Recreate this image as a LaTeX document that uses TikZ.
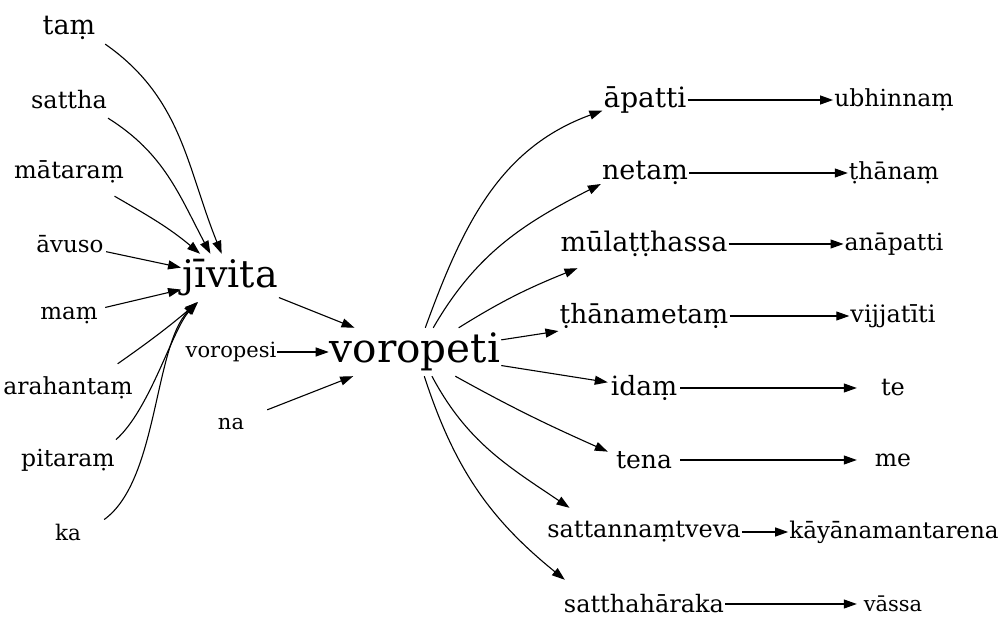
\documentclass[tikz,border=0pt]{standalone}
\usepackage{fontspec}
\IfFontExistsTF{DejaVuSerif.ttf}{\setmainfont{DejaVuSerif.ttf}}{\setmainfont{DejaVu Serif}}
\usetikzlibrary{arrows.meta}
\tikzset{>={Triangle[width=9pt,length=13pt]}}
\newcommand{\wsize}[1]{\fontsize{#1}{#1}\selectfont}

\begin{document}
\begin{tikzpicture}[x=1pt,y=1pt]
  \tikzstyle{wnode} = [inner xsep=1pt, inner ysep=2pt, minimum width=72pt, minimum height=48pt, align=center]
  \tikzstyle{edge} = [->, line width=1.1pt]
  \useasboundingbox (0,0) rectangle (1005,635);

  % left words
  \node[wnode, font=\wsize{27}] (taM) at (69,607) {taṃ};
  \node[wnode, font=\wsize{24}] (sattha) at (69,535) {sattha};
  \node[wnode, font=\wsize{24}] (mataraM) at (69,463) {mātaraṃ};
  \node[wnode, font=\wsize{23}] (avuso) at (70,391) {āvuso};
  \node[wnode, font=\wsize{23}] (maM) at (69,319) {maṃ};
  \node[wnode, font=\wsize{23.5}] (arahantaM) at (68,247) {arahantaṃ};
  \node[wnode, font=\wsize{23.5}] (pitaraM) at (68,175) {pitaraṃ};
  \node[wnode, font=\wsize{21.5}] (ka) at (68,103) {ka};

  \node[wnode, font=\wsize{38}] (jivita) at (230,357) {jīvita};
  \node[wnode, font=\wsize{21}] (voropesi) at (231,283) {voropesi};
  \node[wnode, font=\wsize{21}] (na) at (231,211) {na};
  \node[wnode, font=\wsize{40.5}] (voropeti) at (415,283) {voropeti};

  % right words
  \node[wnode, font=\wsize{28}] (apatti) at (645,535) {āpatti};
  \node[wnode, font=\wsize{27}] (netaM) at (645,462) {netaṃ};
  \node[wnode, font=\wsize{27}] (mulatthassa) at (644,391) {mūlaṭṭhassa};
  \node[wnode, font=\wsize{26.5}] (thanametaM) at (644,319) {ṭhānametaṃ};
  \node[wnode, font=\wsize{26.5}] (idaM) at (644,247) {idaṃ};
  \node[wnode, font=\wsize{25}] (tena) at (644,175) {tena};
  \node[wnode, font=\wsize{24}] (sattannaMtveva) at (644,103) {sattannaṃtveva};
  \node[wnode, font=\wsize{24}] (satthaharaka) at (644,31) {satthahāraka};

  \node[wnode, font=\wsize{23.5}] (ubhinnaM) at (894,535) {ubhinnaṃ};
  \node[wnode, font=\wsize{23.5}] (thanaM) at (894,462) {ṭhānaṃ};
  \node[wnode, font=\wsize{23.5}] (anapatti) at (894,391) {anāpatti};
  \node[wnode, font=\wsize{24}] (vijjatiti) at (893,319) {vijjatīti};
  \node[wnode, font=\wsize{24}] (te) at (893,247) {te};
  \node[wnode, font=\wsize{23.5}] (me) at (893,175) {me};
  \node[wnode, font=\wsize{23}] (kayanamantarena) at (894,103) {kāyānamantarena};
  \node[wnode, font=\wsize{21}] (vassa) at (893,31) {vāssa};

  % into jivita
  \draw[edge] (taM.-24) to[out=-35, in=112] (jivita.109);
  \draw[edge] (sattha.-25) to[out=-32, in=118] (jivita.129);
  \draw[edge] (mataraM.-28) to[out=-30, in=140] (jivita.141);
  \draw[edge] (avuso) -- (jivita);
  \draw[edge] (maM) -- (jivita);
  \draw[edge] (arahantaM.26) to[out=35, in=-140] (jivita.-143);
  \draw[edge] (pitaraM.23) .. controls +(34,30) and +(-25,-26) .. (jivita.-143);
  \draw[edge] (ka.19) .. controls +(54,39) and +(-43,-45) .. (jivita.-144);

  % into voropeti
  \draw[edge] (jivita) -- (voropeti);
  \draw[edge] (voropesi) -- (voropeti);
  \draw[edge] (na) -- (voropeti);

  % out of voropeti
  \draw[edge] (voropeti.67) to[out=70, in=200] (apatti.194);
  \draw[edge] (voropeti.53) to[out=60, in=207] (netaM.-166);
  \draw[edge] (voropeti.29) to[out=32, in=-158] (mulatthassa.-160);
  \draw[edge] (voropeti.8) -- (thanametaM.-170);
  \draw[edge] (voropeti) -- (idaM);
  \draw[edge] (voropeti.-31) to[out=-29, in=156] (tena.167);
  \draw[edge] (voropeti.-55) to[out=-62, in=146] (sattannaMtveva.162);
  \draw[edge] (voropeti.-69) to[out=-72, in=141] (satthaharaka.163);

  \draw[edge] (apatti) -- (ubhinnaM);
  \draw[edge] (netaM) -- (thanaM);
  \draw[edge] (mulatthassa) -- (anapatti);
  \draw[edge] (thanametaM) -- (vijjatiti);
  \draw[edge] (idaM) -- (te);
  \draw[edge] (tena) -- (me);
  \draw[edge] (sattannaMtveva) -- (kayanamantarena);
  \draw[edge] (satthaharaka) -- (vassa);
\end{tikzpicture}
\end{document}
